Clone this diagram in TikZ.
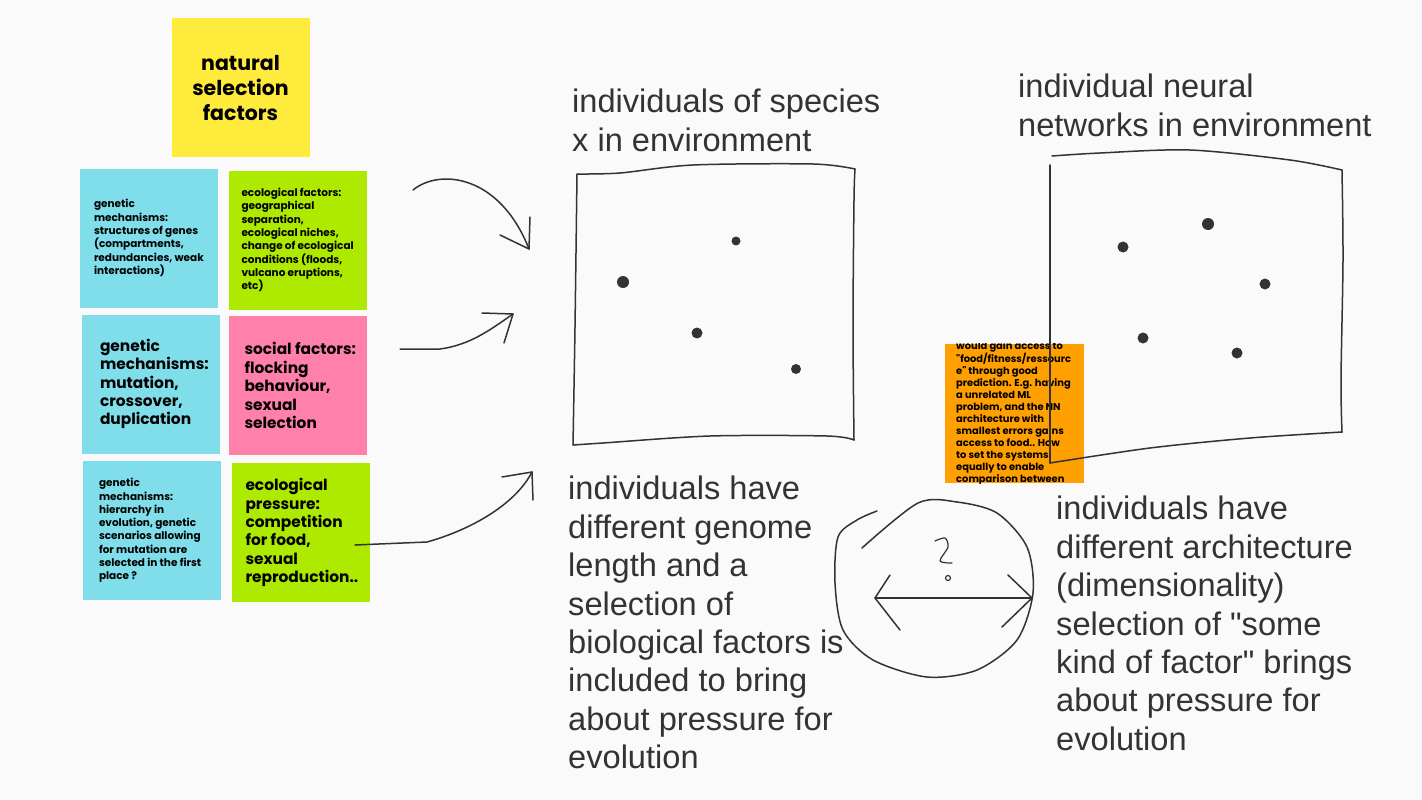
\documentclass[tikz,border=0pt]{standalone}
\usepackage{fontspec}
\setmainfont{Liberation Sans}
\newfontfamily\notefont{Poppins}
\usetikzlibrary{positioning,calc}
\definecolor{nsPaper} {RGB}{250,250,250}
\definecolor{nsInk}   {RGB}{ 51, 51, 51}
\definecolor{nsYellow}{RGB}{255,235, 59}
\definecolor{nsCyan}  {RGB}{128,222,234}
\definecolor{nsLime}  {RGB}{174,234,  0}
\definecolor{nsPink}  {RGB}{255,128,171}
\definecolor{nsOrange}{RGB}{255,160,  0}

\begin{document}
\begin{tikzpicture}[x=1pt,y=-1pt,
    every node/.style={inner sep=0pt},
    note/.style={rectangle,minimum width=138pt,minimum height=139pt},
    notetxt/.style={anchor=west,align=left,color=black},
    notesmall/.style={notetxt,font=\notefont\bfseries\fontsize{10.5}{13.3}\selectfont},
    notebig/.style={notetxt,font=\notefont\bfseries\fontsize{15.4}{18.4}\selectfont},
    hand/.style={anchor=north west,align=left,color=nsInk,
                 font=\fontsize{32.6}{38.4}\selectfont},
    sketch/.style={draw=nsInk,line width=1.5pt,line cap=round,line join=round},
    blob/.style={circle,fill=nsInk,inner sep=0pt}
  ]
  \fill[nsPaper] (0,0) rectangle (1422,800);
  \useasboundingbox (0,0) rectangle (1422,800);

  % Sticky notes
  \node[note,fill=nsYellow,align=center,
        font=\notefont\bfseries\fontsize{20.5}{25}\selectfont] (nsf) at (240.5,87.5)
    {natural\\selection\\factors};
  \node[note,fill=nsCyan] (gen1) at (149,238) {};
  \node[notesmall] (gen1t) at ([xshift=14pt]gen1.west)
    {genetic\\mechanisms:\\structures of genes\\(compartments,\\redundancies, weak\\interactions)};
  \node[note,fill=nsLime] (eco1) at (297.5,240) {};
  \node[notesmall] (eco1t) at ([xshift=13pt]eco1.west)
    {ecological factors:\\geographical\\separation,\\ecological niches,\\change of ecological\\conditions (floods,\\vulcano eruptions,\\etc)};
  \node[note,fill=nsCyan] (gen2) at (151,384) {};
  \node[notebig] (gen2t) at ([xshift=18pt]gen2.west)
    {genetic\\mechanisms:\\mutation,\\crossover,\\duplication};
  \node[note,fill=nsPink] (soc) at (297.5,385.5) {};
  \node[notebig] (soct) at ([xshift=16pt]soc.west)
    {social factors:\\flocking\\behaviour,\\sexual\\selection};
  \node[note,fill=nsCyan] (gen3) at (152,530.5) {};
  \node[notesmall] (gen3t) at ([xshift=16pt]gen3.west)
    {genetic\\mechanisms:\\hierarchy in\\evolution, genetic\\scenarios allowing\\for mutation are\\selected in the first\\place ?};
  \node[note,fill=nsLime] (eco2) at (300.5,532.5) {};
  \node[notebig] (eco2t) at ([xshift=14pt]eco2.west)
    {ecological\\pressure:\\competition\\for food,\\sexual\\reproduction..};
  \node[note,fill=nsOrange,minimum width=139pt] (ml) at (1014.5,413.5) {};
  \begin{scope}
    \clip (ml.north west) rectangle (ml.south east);
    \node[anchor=north west,align=left,color=black,
          font=\notefont\bfseries\fontsize{9.9}{12}\selectfont] (mlt) at (956,341.5)
      {would gain access to\\\textquotedbl food/fitness/ressourc\\e\textquotedbl{} through good\\prediction. E.g. having\\a unrelated ML\\problem, and the NN\\architecture with\\smallest errors gains\\access to food.. How\\to set the systems\\equally to enable\\comparison between};
  \end{scope}

  % Titles and notes in hand
  \node[hand] (spTitle) at (572,89) {individuals of species\\x in environment};
  \node[hand] (nnTitle) at (1018,74) {individual neural\\networks in environment};
  \node[hand] (spDesc) at (568,476)
    {individuals have\\different genome\\length and a\\selection of\\biological factors is\\included to bring\\about pressure for\\evolution};
  \node[hand] (nnDesc) at (1056,496)
    {individuals have\\different architecture\\(dimensionality)\\selection of \textquotedbl some\\kind of factor\textquotedbl{} brings\\about pressure for\\evolution};

  % Environment of species x
  \draw[sketch] plot[smooth] coordinates {(577,174) (620,173) (693,165) (813,164) (855,169)};
  \draw[sketch] plot[smooth] coordinates {(855,169) (854,200) (853,327) (854,440)};
  \draw[sketch] plot[smooth] coordinates {(854,440) (827,436) (710,436) (603,443) (573,445)};
  \draw[sketch] plot[smooth] coordinates {(573,445) (575,327) (577,174)};
  \node[blob,minimum size=12pt] (s1) at (623,282) {};
  \node[blob,minimum size=9pt]  (s2) at (736,241) {};
  \node[blob,minimum size=11pt] (s3) at (697,333) {};
  \node[blob,minimum size=10pt] (s4) at (796,369) {};

  % Environment of neural networks
  \draw[sketch] plot[smooth] coordinates {(1052,156) (1100,153) (1190,150) (1290,160) (1342,170)};
  \draw[sketch] plot[smooth] coordinates {(1342,170) (1343,260) (1341,380) (1342,432)};
  \draw[sketch] plot[smooth] coordinates {(1342,432) (1250,438) (1150,448) (1050,463)};
  \draw[sketch] (1050,165) -- (1050,463);
  \node[blob,minimum size=12pt] (n1) at (1208,224) {};
  \node[blob,minimum size=11pt] (n2) at (1123,247) {};
  \node[blob,minimum size=11pt] (n3) at (1265,284) {};
  \node[blob,minimum size=11pt] (n4) at (1143,338) {};
  \node[blob,minimum size=11pt] (n5) at (1237,353) {};

  % Arrows into the environment
  \coordinate (a1s) at (413,190);
  \coordinate (a1e) at (529,249);
  \draw[sketch] (a1s) .. controls (440,168) and (500,175) .. (a1e);
  \draw[sketch] ([shift={(-29,-14)}]a1e) -- (a1e) -- ([shift={(1,-32)}]a1e);
  \coordinate (a2s) at (400,349);
  \coordinate (a2e) at (513,314);
  \draw[sketch] (a2s) -- (440,349) .. controls (470,345) and (490,330) .. (a2e);
  \draw[sketch] ([shift={(-31,-1)}]a2e) -- (a2e) -- ([shift={(-9,29)}]a2e);
  \coordinate (a3s) at (355,545);
  \coordinate (a3e) at (532,472);
  \draw[sketch] (a3s) -- (427,542) .. controls (470,530) and (515,505) .. (a3e);
  \draw[sketch] ([shift={(-30,5)}]a3e) -- (a3e) -- ([shift={(1,28)}]a3e);

  % Comparison
  \draw[sketch] plot[smooth] coordinates {(877,511) (857,520) (838,537) (835,583) (843,630)
    (873,660) (927,677) (977,670) (1017,640) (1033,593) (1027,547) (997,513) (957,502)
    (918,503) (862,548)};
  \coordinate (cl) at (875,598);
  \coordinate (cr) at (1032,598);
  \draw[sketch] (cl) -- (cr);
  \draw[sketch] (890,575) -- (cl) -- (900,630);
  \draw[sketch] (1008,575) -- (cr) -- (1002,627);
  \draw[sketch,line width=1.2pt] plot[smooth] coordinates {(935,541) (945,538) (948,547) (940,561) (952,563)};
  \draw[sketch,line width=1.2pt] (948,578) circle (2.5);
\end{tikzpicture}
\end{document}
